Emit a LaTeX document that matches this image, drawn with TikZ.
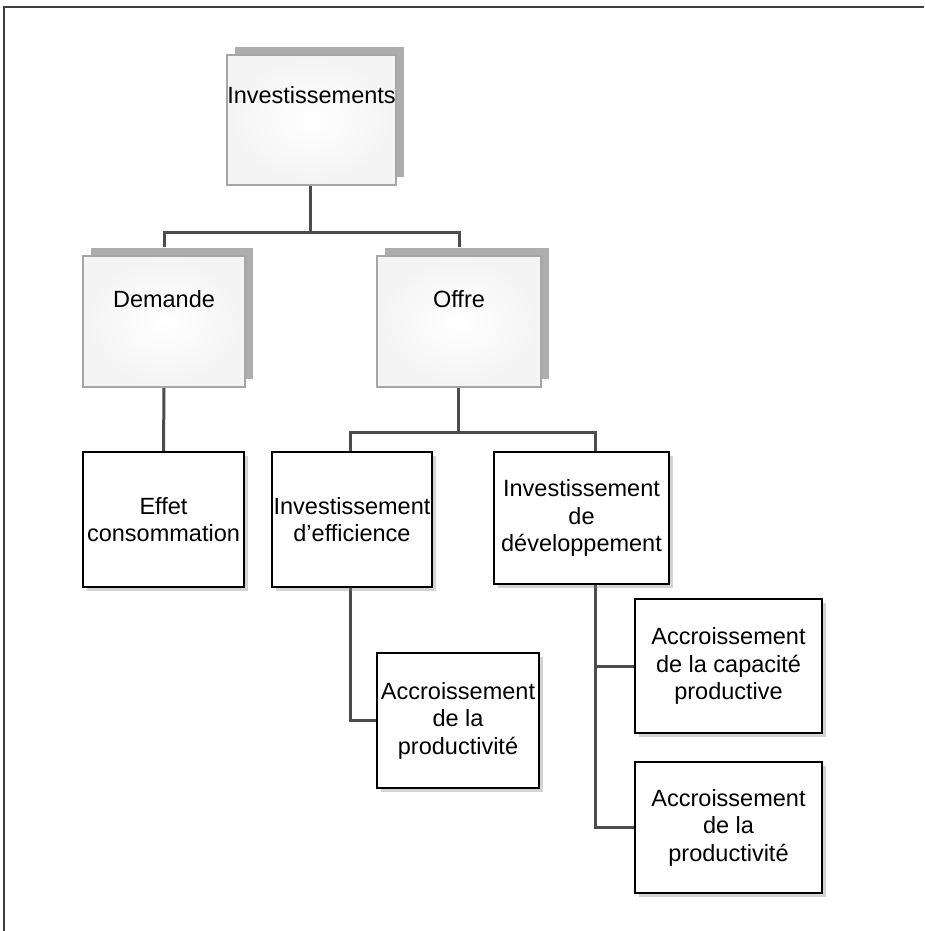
\documentclass[tikz,border=0pt]{standalone}
\usepackage{fontspec}
\setmainfont{Liberation Sans}
\usetikzlibrary{shadows,calc,backgrounds}
\begin{document}
\begin{tikzpicture}[x=1pt,y=-1pt,
  every node/.style={font=\fontsize{23.5}{27.5}\selectfont, align=center, inner sep=0pt, text=black},
  topbox/.style={rectangle, draw=gray!70, line width=1.4pt, inner color=white, outer color=gray!9,
    text height=17pt,
    drop shadow={shadow xshift=8pt, shadow yshift=8pt, fill=gray!75, opacity=0.85}},
  blackbox/.style={rectangle, draw=black, line width=2.2pt, fill=white,
    drop shadow={shadow xshift=4pt, shadow yshift=-4pt, fill=gray, opacity=0.35}},
  link/.style={draw=black!70, line width=3pt}
]
\useasboundingbox (0,0) rectangle (924,931);
% page frame
\draw[line width=2pt, black!75] (4,931) -- (4,7) -- (924,7);

% top level
\node[topbox, minimum width=169pt, minimum height=130pt, text depth=49pt] (inv) at (311.5,120) {Investissements};
\node[topbox, minimum width=162pt, minimum height=131pt, text depth=46pt] (dem) at (164,321.5) {Demande};
\node[topbox, minimum width=164pt, minimum height=131pt, text depth=46pt] (off) at (459,321.5) {Offre};

% second level
\node[blackbox, minimum width=161pt, minimum height=135pt] (eff) at (163.5,519.5) {Effet\\consommation};
\node[blackbox, minimum width=160pt, minimum height=135pt] (effic) at (352,519.5) {Investissement\\d'efficience};
\node[blackbox, minimum width=175pt, minimum height=132pt] (dev) at (581.5,518) {Investissement\\de\\développement};

% third level
\node[blackbox, minimum width=162pt, minimum height=135pt] (prod1) at (458,720.5) {Accroissement\\de la\\productivité};
\node[blackbox, minimum width=187pt, minimum height=134pt] (cap) at (728.5,666) {Accroissement\\de la capacité\\productive};
\node[blackbox, minimum width=187pt, minimum height=131pt] (prod2) at (728.5,827.5) {Accroissement\\de la\\productivité};

\begin{scope}[on background layer]
\draw[link] ([xshift=-1.5pt]inv.south) -- ++(0,47) coordinate (j1);
\draw[link] ([yshift=8pt]dem.north) |- (j1) -| ([yshift=8pt]off.north);
\draw[link] (dem.south) -- (eff.north);
\draw[link] ([xshift=-1pt]off.south) -- ++(0,45) coordinate (j2);
\draw[link] ([xshift=-2pt]effic.north) |- (j2) -| ([xshift=13.5pt]dev.north);
\draw[link] ([xshift=-2pt]effic.south) |- (prod1.west);
\draw[link] ([xshift=13.5pt]dev.south) |- (cap.west);
\draw[link] ([xshift=13.5pt]dev.south) |- (prod2.west);
\end{scope}
\end{tikzpicture}
\end{document}
